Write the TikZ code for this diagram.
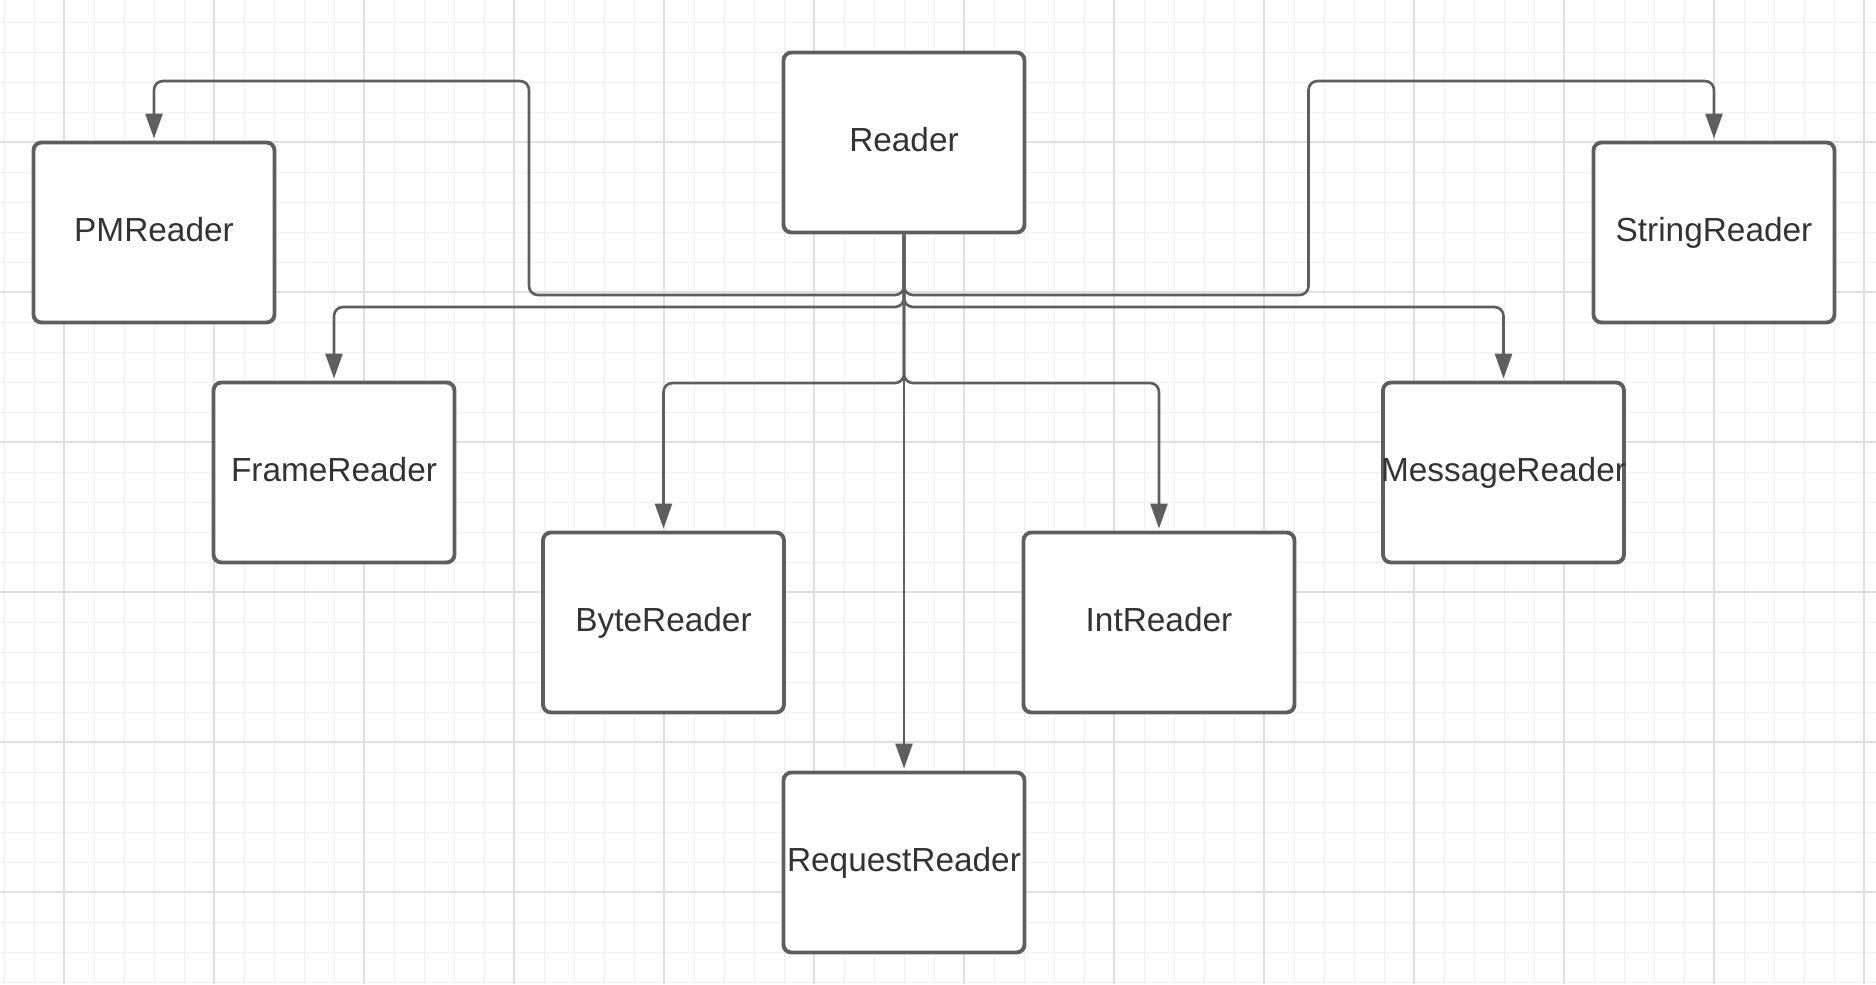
\documentclass[tikz,border=0pt]{standalone}
\usepackage{fontspec}
\setmainfont{Liberation Sans}
\usetikzlibrary{arrows.meta}
\definecolor{boxgray}{RGB}{94,94,94}
\definecolor{textgray}{RGB}{51,51,51}
\definecolor{minorgrid}{RGB}{240,240,240}
\definecolor{majorgrid}{RGB}{224,224,224}
\tikzset{
  >={Triangle[length=2.5mm,width=1.7mm]},
  {class/.style} ={draw=boxgray, line width=1.1pt, rounded corners=0.8mm,
                   fill=white, inner sep=0, minimum width=24.1mm,
                   minimum height=18mm, text=textgray,
                   text height=2.6mm, text depth=0.8mm,
                   font=\fontsize{9.5}{11}\selectfont},
  {wideclass/.style} ={class, minimum width=27.1mm},
  {inherit/.style} ={draw=boxgray, line width=0.75pt, rounded corners=0.9mm,
                     ->, shorten >=0.2mm},
  {minor line/.style} ={minorgrid, line width=0.28pt},
  {major line/.style} ={majorgrid, line width=0.4pt},
}

\begin{document}
\begin{tikzpicture}[x=1mm,y=-1mm]
\useasboundingbox (0,0) rectangle (187.6,98.4);
\fill[white] (0,0) rectangle (187.6,98.4);
% paper grid
\foreach \gx in {0.4,3.4,...,186.5} \draw[minor line] (\gx,0) -- (\gx,98.4);
\foreach \gy in {2.2,5.2,...,98.3} \draw[minor line] (0,\gy) -- (187.6,\gy);
\foreach \gx in {6.4,21.4,...,186.5} \draw[major line] (\gx,0) -- (\gx,98.4);
\foreach \gy in {14.2,29.2,...,89.3} \draw[major line] (0,\gy) -- (187.6,\gy);

\node[class] (reader) at (90.4,14.25) {Reader};
\node[class] (pm) at (15.4,23.25) {PMReader};
\node[class] (string) at (171.4,23.25) {StringReader};
\node[class] (frame) at (33.4,47.25) {FrameReader};
\node[class] (message) at (150.35,47.25) {\makebox[0pt]{MessageReader}}; % name runs over the box
\node[class] (byte) at (66.35,62.25) {ByteReader};
\node[wideclass] (int) at (115.9,62.25) {IntReader};
\node[class] (request) at (90.4,86.25) {RequestReader};

\coordinate (top) at (0,8.1);
\coordinate (lvlA) at (0,29.5);
\coordinate (lvlB) at (0,30.7);
\coordinate (lvlC) at (0,38.3);
\coordinate (pmturn) at (52.9,29.5);
\coordinate (stringturn) at (130.85,29.5);

\draw[inherit] (reader.south) |- (pmturn) |- (pm.north |- top) -- (pm.north);
\draw[inherit] (reader.south) |- (stringturn) |- (string.north |- top) -- (string.north);
\draw[inherit] (reader.south) |- (frame.north |- lvlB) -- (frame.north);
\draw[inherit] (reader.south) |- (message.north |- lvlB) -- (message.north);
\draw[inherit] (reader.south) |- (byte.north |- lvlC) -- (byte.north);
\draw[inherit] (reader.south) |- (int.north |- lvlC) -- (int.north);
\draw[inherit] (reader.south) -- (request.north);
\end{tikzpicture}
\end{document}
